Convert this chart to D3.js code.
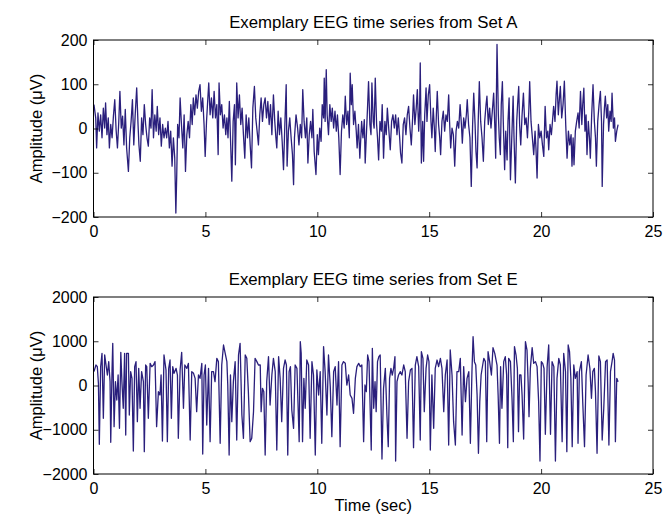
<!DOCTYPE html>
<html>
<head>
<meta charset="utf-8">
<script src="https://cdn.jsdelivr.net/npm/d3@7"></script>
<style>
  body { margin: 0; background: #fff; }
  svg text { font-family: "Liberation Sans", Arial, Helvetica, sans-serif; fill: #000; }
</style>
</head>
<body>
<div id="chart"></div>
<script>
// Set A (healthy, eyes open) - times in sec, amplitudes in µV
const timeA = [0.02,0.10,0.14,0.20,0.26,0.32,0.38,0.44,0.50,0.54,0.60,0.66,0.71,0.77,0.83,0.89,0.95,1.01,1.07,1.13,
  1.18,1.24,1.30,1.36,1.42,1.48,1.56,1.62,1.68,1.74,1.80,1.86,1.93,1.99,2.03,2.09,2.15,2.21,2.27,2.33,
  2.39,2.45,2.51,2.57,2.62,2.68,2.74,2.80,2.85,2.91,2.97,3.03,3.09,3.15,3.21,3.27,3.33,3.39,3.45,3.51,
  3.57,3.63,3.68,3.72,3.76,3.82,3.87,3.93,3.99,4.05,4.11,4.17,4.23,4.29,4.35,4.41,4.46,4.52,4.58,4.64,
  4.70,4.76,4.82,4.88,4.94,4.99,5.05,5.11,5.15,5.21,5.27,5.33,5.39,5.45,5.51,5.57,5.61,5.67,5.73,5.79,
  5.85,5.91,5.96,6.01,6.07,6.13,6.18,6.24,6.30,6.34,6.40,6.46,6.52,6.58,6.64,6.70,6.76,6.82,6.88,6.94,
  7.00,7.06,7.12,7.19,7.25,7.31,7.37,7.43,7.49,7.55,7.61,7.67,7.73,7.79,7.85,7.91,7.97,8.04,8.10,8.15,
  8.19,8.25,8.31,8.37,8.43,8.49,8.55,8.61,8.65,8.71,8.77,8.83,8.89,8.94,8.98,9.05,9.12,9.18,9.24,9.30,
  9.35,9.41,9.47,9.53,9.58,9.64,9.70,9.76,9.80,9.86,9.94,10.00,10.05,10.11,10.17,10.22,10.28,10.31,10.35,10.40,
  10.44,10.50,10.56,10.62,10.67,10.73,10.79,10.85,10.90,10.96,11.02,11.08,11.14,11.20,11.25,11.31,11.37,11.43,11.47,11.52,
  11.56,11.62,11.68,11.74,11.78,11.84,11.90,11.98,12.04,12.10,12.14,12.20,12.25,12.29,12.35,12.40,12.44,12.50,12.54,12.59,
  12.65,12.69,12.74,12.80,12.86,12.90,12.96,13.02,13.08,13.13,13.19,13.26,13.32,13.38,13.44,13.50,13.56,13.62,13.68,13.72,
  13.78,13.84,13.90,13.96,14.02,14.08,14.14,14.20,14.26,14.30,14.36,14.42,14.47,14.53,14.57,14.60,14.65,14.71,14.75,14.80,
  14.86,14.90,14.96,15.02,15.08,15.12,15.18,15.23,15.27,15.32,15.36,15.42,15.47,15.51,15.57,15.63,15.69,15.75,15.81,15.87,
  15.91,15.96,16.02,16.08,16.14,16.20,16.26,16.32,16.38,16.44,16.48,16.54,16.60,16.66,16.70,16.76,16.82,16.88,16.94,16.99,
  17.05,17.09,17.14,17.19,17.24,17.30,17.36,17.42,17.48,17.54,17.58,17.64,17.70,17.76,17.82,17.88,17.94,17.97,18.03,18.09,
  18.13,18.18,18.22,18.27,18.31,18.37,18.42,18.48,18.52,18.57,18.63,18.69,18.75,18.79,18.85,18.91,18.95,19.00,19.04,19.09,
  19.15,19.21,19.27,19.33,19.39,19.45,19.49,19.55,19.61,19.67,19.73,19.77,19.82,19.88,19.94,20.00,20.06,20.12,20.18,20.24,
  20.30,20.34,20.40,20.46,20.52,20.56,20.62,20.67,20.71,20.77,20.82,20.86,20.92,20.98,21.04,21.10,21.16,21.22,21.28,21.34,
  21.38,21.43,21.47,21.53,21.59,21.65,21.70,21.76,21.82,21.86,21.91,21.96,22.01,22.05,22.11,22.16,22.20,22.26,22.32,22.38,
  22.43,22.47,22.53,22.59,22.65,22.70,22.73,22.79,22.83,22.87,22.93,22.98,23.02,23.08,23.13,23.17,23.23,23.28,23.32,23.38,
  23.44];
const ampA = [54,24,-44,35,-6,31,-21,46,1,58,-14,24,-44,9,-21,28,65,-3,-44,16,
  84,1,28,-37,43,-44,-97,-21,16,65,-37,28,92,9,-37,-74,24,-14,54,9,
  -21,-40,24,1,88,-21,31,-6,50,-14,24,-40,9,-21,1,-21,16,-44,-6,-85,
  -21,-67,-191,-104,9,-21,69,9,-44,31,-97,-14,16,-21,54,9,69,31,76,46,
  84,99,39,69,9,-63,16,69,103,31,69,24,84,24,54,-59,103,31,54,1,
  31,-14,24,-21,61,-37,-119,16,54,-82,103,24,76,9,46,-14,-67,31,-21,24,
  -37,-89,46,95,24,-6,-37,31,69,16,54,69,24,61,9,54,-14,76,16,-21,
  -44,39,-14,24,-29,-93,9,99,-85,-6,24,-21,-59,-127,-21,31,1,-37,9,-21,
  88,16,-21,24,-78,-14,16,-21,43,-52,-104,-14,-59,1,-29,54,24,114,16,133,
  31,-14,54,16,46,1,39,-6,31,-21,-104,-6,31,1,73,9,39,-21,125,54,
  99,9,39,-6,-44,9,-67,16,-21,20,-78,-6,54,106,9,-14,103,16,1,114,
  9,-21,-71,16,-6,54,-67,16,-14,46,1,-48,16,31,1,31,-14,24,-21,-55,
  -78,9,24,-14,31,50,1,-37,24,76,9,46,88,-6,39,148,-78,16,-74,31,
  92,16,76,99,16,-21,46,1,-52,31,84,9,-21,-59,16,39,-6,31,16,76,
  16,-44,1,-14,-85,-6,16,1,54,9,-33,24,1,31,65,9,-21,-131,9,80,
  9,-52,-89,16,106,16,-21,-74,16,54,73,9,46,1,39,80,-6,-67,190,31,
  -21,-59,54,106,16,-93,-6,-71,16,69,-116,-21,73,-21,-123,16,54,95,9,-37,
  31,80,9,24,-21,39,106,16,-21,-59,-6,-44,-112,9,-21,-6,-37,-63,50,-21,
  -6,-48,9,-14,24,50,16,76,107,31,69,95,24,54,107,9,-67,-6,-37,-14,
  -85,-21,-82,-6,16,35,1,84,9,54,91,-6,31,-59,16,-21,-67,31,99,16,
  -21,-85,16,54,84,16,-131,9,46,73,24,54,-6,39,16,80,1,24,-29,-6,
  9];

// Set E (seizure activity)
const timeE = [0.02,0.11,0.17,0.22,0.26,0.32,0.38,0.44,0.50,0.56,0.62,0.68,0.74,0.77,0.83,0.86,0.92,0.98,1.04,1.10,
  1.16,1.22,1.27,1.33,1.39,1.44,1.48,1.56,1.60,1.66,1.72,1.78,1.84,1.90,1.96,2.02,2.08,2.15,2.23,2.27,
  2.33,2.38,2.45,2.53,2.60,2.68,2.75,2.82,2.90,2.97,3.02,3.08,3.15,3.24,3.30,3.36,3.42,3.48,3.54,3.60,
  3.69,3.75,3.79,3.87,3.94,4.02,4.08,4.17,4.24,4.32,4.39,4.47,4.54,4.61,4.69,4.76,4.84,4.88,4.94,5.00,
  5.06,5.14,5.21,5.28,5.36,5.43,5.51,5.58,5.66,5.73,5.81,5.96,6.00,6.06,6.12,6.18,6.25,6.33,6.40,6.48,
  6.55,6.63,6.70,6.78,6.85,6.92,7.00,7.07,7.15,7.22,7.30,7.37,7.45,7.49,7.55,7.61,7.67,7.74,7.82,7.89,
  7.97,8.04,8.12,8.19,8.27,8.34,8.41,8.49,8.56,8.62,8.68,8.74,8.80,8.86,8.94,9.01,9.09,9.19,9.24,9.28,
  9.34,9.40,9.46,9.53,9.61,9.68,9.76,9.83,9.91,9.98,10.06,10.13,10.20,10.28,10.35,10.43,10.50,10.58,10.65,10.73,
  10.80,10.88,10.95,11.02,11.10,11.17,11.25,11.32,11.40,11.47,11.55,11.62,11.70,11.77,11.85,11.92,11.99,12.07,12.13,12.19,
  12.25,12.31,12.37,12.41,12.46,12.52,12.58,12.63,12.69,12.75,12.81,12.89,12.96,13.04,13.11,13.17,13.23,13.29,13.35,13.41,
  13.47,13.50,13.56,13.63,13.71,13.78,13.86,13.93,14.01,14.08,14.16,14.23,14.30,14.38,14.45,14.53,14.60,14.65,14.72,14.78,
  14.86,14.93,14.99,15.05,15.12,15.20,15.27,15.35,15.42,15.50,15.57,15.65,15.72,15.80,15.87,15.94,16.02,16.09,16.17,16.24,
  16.32,16.39,16.47,16.54,16.62,16.69,16.77,16.84,16.91,16.96,17.02,17.08,17.14,17.20,17.26,17.32,17.39,17.44,17.51,17.57,
  17.63,17.70,17.78,17.85,17.93,18.03,18.08,18.14,18.19,18.25,18.33,18.40,18.46,18.51,18.55,18.63,18.70,18.76,18.81,18.88,
  18.94,18.99,19.04,19.10,19.15,19.22,19.30,19.37,19.42,19.46,19.52,19.60,19.67,19.75,19.82,19.89,19.95,20.01,20.07,20.13,
  20.19,20.27,20.34,20.42,20.49,20.57,20.64,20.71,20.79,20.86,20.94,21.01,21.09,21.15,21.21,21.27,21.33,21.39,21.46,21.53,
  21.61,21.65,21.71,21.80,21.86,21.94,22.01,22.10,22.18,22.25,22.31,22.38,22.43,22.50,22.58,22.65,22.73,22.80,22.88,22.95,
  23.03,23.10,23.17,23.22,23.28,23.32,23.38,23.44];
const ampE = [313,463,426,49,-1330,426,727,-742,689,463,237,539,87,-1284,388,953,-930,87,-328,237,
  -968,750,87,-516,727,-1119,727,727,-667,313,162,-1480,426,539,-817,388,-516,313,87,-1495,
  463,426,-742,501,426,463,539,-930,-139,-215,237,-1254,689,350,-1269,388,576,-742,426,275,
  388,237,-1194,350,750,-516,463,388,501,-1232,313,275,162,-591,237,162,501,-1548,237,463,
  -893,388,-1269,313,313,87,614,539,-1307,463,915,539,11,-1571,237,-817,87,539,-1232,689,
  953,-667,-1194,689,614,-139,-1269,-1194,-591,614,539,463,463,-591,-64,-139,-1571,87,652,-441,
  237,614,313,-1458,652,162,-817,388,576,463,-1571,313,426,-554,-968,463,388,-1269,991,727,
  -1269,162,-516,576,463,-1194,539,237,-1571,350,-215,313,-1307,878,313,-667,689,-26,-1157,313,
  426,-441,539,-1382,463,539,501,11,237,-215,-290,-629,162,426,501,426,463,-1269,11,-139,
  689,539,-667,-1458,840,-516,87,-591,539,652,689,-1661,-64,388,-667,-1382,162,388,237,388,
  652,-1706,87,237,313,237,463,313,-1194,87,350,388,-1405,463,652,426,-1232,765,614,-591,
  388,689,539,-1458,237,-968,388,576,426,614,388,-591,237,576,-1345,802,237,-817,-1345,313,
  313,614,-1119,426,-365,162,313,-1307,313,1104,539,463,-215,-1533,-365,237,463,614,539,-1269,
  765,539,237,855,727,463,-215,-1307,426,-516,539,652,237,-1405,614,539,-290,-1269,878,689,
  388,-1043,237,237,-215,-1209,991,802,87,-704,388,855,501,539,426,-365,-1706,539,501,388,
  -1104,426,915,-1104,539,426,-1706,162,614,463,-1269,727,313,-1495,915,765,162,-1382,463,162,
  313,-1307,313,539,-365,-1382,237,689,388,-290,313,388,-139,-1533,667,539,-1232,-516,539,576,
  -1345,313,539,727,576,-1269,162,87];

const xTicks = [0, 5, 10, 15, 20, 25];
const yTicksA = [-200, -100, 0, 100, 200];
const yTicksE = [-2000, -1000, 0, 1000, 2000];

const panels = [
  { title: "Exemplary EEG time series from Set A", t: timeA, v: ampA, yDomain: [-200, 200], yTicks: yTicksA, top: 40, xLabel: false },
  { title: "Exemplary EEG time series from Set E", t: timeE, v: ampE, yDomain: [-2000, 2000], yTicks: yTicksE, top: 297, xLabel: true }
];

const W = 669, H = 516;
const left = 93.5, right = 653, plotH = 177;
const fontSize = 16;

const svg = d3.select("#chart").append("svg")
  .attr("width", W)
  .attr("height", H);

const x = d3.scaleLinear().domain([0, 25]).range([left, right]);

panels.forEach(p => {
  const y = d3.scaleLinear().domain(p.yDomain).range([p.top + plotH, p.top]);
  const g = svg.append("g");

  // trace
  const pts = p.t.map((t, i) => [t, p.v[i]]);
  const line = d3.line().x(d => x(d[0])).y(d => y(d[1]));
  g.append("path")
    .datum(pts)
    .attr("fill", "none")
    .attr("stroke", "#2a1f7c")
    .attr("stroke-width", 1.3)
    .attr("stroke-linejoin", "round")
    .attr("d", line);

  // axes, ticks pointing inward like matlab
  g.append("g")
    .attr("transform", `translate(0,${p.top + plotH})`)
    .call(d3.axisBottom(x).tickValues(xTicks).tickSizeInner(-5).tickSizeOuter(0).tickPadding(9));
  g.append("g")
    .attr("transform", `translate(0,${p.top})`)
    .call(d3.axisTop(x).tickValues(xTicks).tickSizeInner(-5).tickSizeOuter(0).tickFormat(""));
  g.append("g")
    .attr("transform", `translate(${left},0)`)
    .call(d3.axisLeft(y).tickValues(p.yTicks).tickSizeInner(-5).tickSizeOuter(0).tickPadding(6)
      .tickFormat(d => d < 0 ? "\u2212" + Math.abs(d) : d));
  g.append("g")
    .attr("transform", `translate(${right},0)`)
    .call(d3.axisRight(y).tickValues(p.yTicks).tickSizeInner(-5).tickSizeOuter(0).tickFormat(""));

  g.selectAll(".domain").remove();
  g.selectAll(".tick line").attr("stroke", "#000").attr("stroke-width", 0.8);
  g.selectAll(".tick text").style("font-size", fontSize + "px").attr("fill", "#000");

  // box
  g.append("rect")
    .attr("x", left).attr("y", p.top)
    .attr("width", right - left).attr("height", plotH)
    .attr("fill", "none").attr("stroke", "#000").attr("stroke-width", 1);

  g.append("text")
    .attr("x", (left + right) / 2)
    .attr("y", p.top - 12)
    .attr("text-anchor", "middle")
    .style("font-size", "16.8px")
    .text(p.title);

  g.append("text")
    .attr("transform", `translate(42,${p.top + plotH / 2}) rotate(-90)`)
    .attr("text-anchor", "middle")
    .style("font-size", "16.5px")
    .text("Amplitude (\u03bcV)");

  if (p.xLabel) {
    g.append("text")
      .attr("x", (left + right) / 2)
      .attr("y", p.top + plotH + 37)
      .attr("text-anchor", "middle")
      .style("font-size", "16.5px")
      .text("Time (sec)");
  }
});
</script>
</body>
</html>
